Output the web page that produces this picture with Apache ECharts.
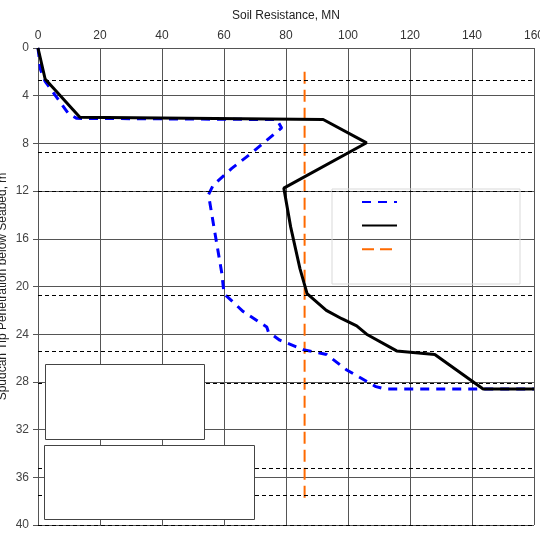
<!DOCTYPE html>
<html>
<head>
<meta charset="utf-8">
<script src="https://cdn.jsdelivr.net/npm/echarts@6/dist/echarts.min.js"></script>
<style>html,body{margin:0;padding:0;background:#fff}#c{width:540px;height:540px}</style>
</head>
<body>
<div id="c"></div>
<script>
// Data
const xTicks = [0, 20, 40, 60, 80, 100, 120, 140, 160];
const yTicks = [0, 4, 8, 12, 16, 20, 24, 28, 32, 36, 40];

const blueX = [0, 0.8, 2.3, 9.8, 12.5, 77, 78.6, 68.9, 62.5, 56.5, 55, 57, 59.3, 60, 66.2, 73.8, 74.3, 78, 85.6, 93.1, 99.6, 109, 112, 160];
const blueY = [0, 1.8, 2.8, 5.5, 5.9, 6.0, 6.7, 8.8, 10.1, 11.5, 12.3, 15.4, 18.9, 20.6, 22.1, 23.4, 23.8, 24.5, 25.3, 25.7, 27.0, 28.4, 28.6, 28.6];

const blackX = [0, 2.3, 13.5, 92, 106, 79.3, 81.5, 84.5, 86.8, 93, 98, 102.8, 106, 115.7, 128, 143.6, 160];
const blackY = [0, 2.6, 5.8, 6.0, 7.95, 11.75, 15, 18.5, 20.6, 22.0, 22.7, 23.3, 24.0, 25.4, 25.7, 28.6, 28.6];

const orangeX = [86, 86];
const orangeY = [2.0, 38.0];

const layerDepths = [2.7, 8.75, 12.05, 20.75, 25.4, 28.15, 35.2, 37.5, 40];

const zip = (xs, ys) => xs.map((x, i) => [x, ys[i]]);

const chart = echarts.init(document.getElementById('c'));
const font = 'Liberation Sans, Arial, sans-serif';

chart.setOption({
  animation: false,
  backgroundColor: '#fff',
  grid: { left: 38, right: 6, top: 48, bottom: 15, containLabel: false, outerBoundsMode: 'none' },
  xAxis: {
    type: 'value', position: 'top', min: 0, max: 160, interval: 20,
    name: 'Soil Resistance, MN', nameLocation: 'middle', nameGap: 26,
    nameTextStyle: { fontFamily: font, fontSize: 12, color: '#222' },
    axisLine: { show: true, lineStyle: { color: '#555', width: 1 } },
    axisTick: { show: false },
    axisLabel: { fontFamily: font, fontSize: 12, color: '#333', margin: 6 },
    splitLine: { show: true, lineStyle: { color: '#555', width: 1 } }
  },
  yAxis: {
    type: 'value', inverse: true, min: 0, max: 40, interval: 4,
    name: 'Spudcan Tip Penetration below Seabed, m', nameLocation: 'middle', nameGap: 29, nameRotate: 90,
    nameMoveOverlap: false,
    nameTextStyle: { fontFamily: font, fontSize: 12, color: '#222' },
    axisLine: { show: true, lineStyle: { color: '#555', width: 1 } },
    axisTick: { show: true, length: 5, lineStyle: { color: '#555' } },
    axisLabel: { fontFamily: font, fontSize: 12, color: '#444', margin: 9 },
    splitLine: { show: true, lineStyle: { color: '#555', width: 1 } }
  },
  legend: {
    orient: 'vertical', left: 356, top: 190, itemWidth: 35, itemHeight: 14, itemGap: 11,
    formatter: () => '', selectedMode: false,
    itemStyle: { opacity: 0 },
    data: ['Lower', 'Upper', 'Limit']
  },
  graphic: [
    { type: 'rect', shape: { x: 332, y: 189, width: 188, height: 95 }, style: { fill: 'none', stroke: '#d9d9d9', lineWidth: 1 }, z: 5 },
    { type: 'rect', shape: { x: 45.5, y: 364.5, width: 159, height: 75 }, style: { fill: '#fff', stroke: '#444', lineWidth: 1 }, z: 20 },
    { type: 'rect', shape: { x: 44.5, y: 445.5, width: 210, height: 74 }, style: { fill: '#fff', stroke: '#444', lineWidth: 1 }, z: 20 }
  ],
  series: [
    {
      type: 'line', name: 'layers', data: [], z: 1, silent: true,
      markLine: {
        symbol: 'none', silent: true, animation: false,
        label: { show: false },
        lineStyle: { color: '#000', width: 1, type: [4, 3] },
        data: layerDepths.map(d => ({ yAxis: d }))
      }
    },
    {
      type: 'line', name: 'Lower', data: zip(blueX, blueY), symbol: 'none', z: 3,
      lineStyle: { color: '#0000ff', width: 3, type: [9, 7] }, itemStyle: { color: '#0000ff' }
    },
    {
      type: 'line', name: 'Upper', data: zip(blackX, blackY), symbol: 'none', z: 4,
      lineStyle: { color: '#000', width: 3, type: 'solid' }, itemStyle: { color: '#000' }
    },
    {
      type: 'line', name: 'Limit', data: zip(orangeX, orangeY), symbol: 'none', z: 2,
      lineStyle: { color: '#ff6a00', width: 2, type: [12, 6] }, itemStyle: { color: '#ff6a00' }
    }
  ]
});
</script>
</body>
</html>
